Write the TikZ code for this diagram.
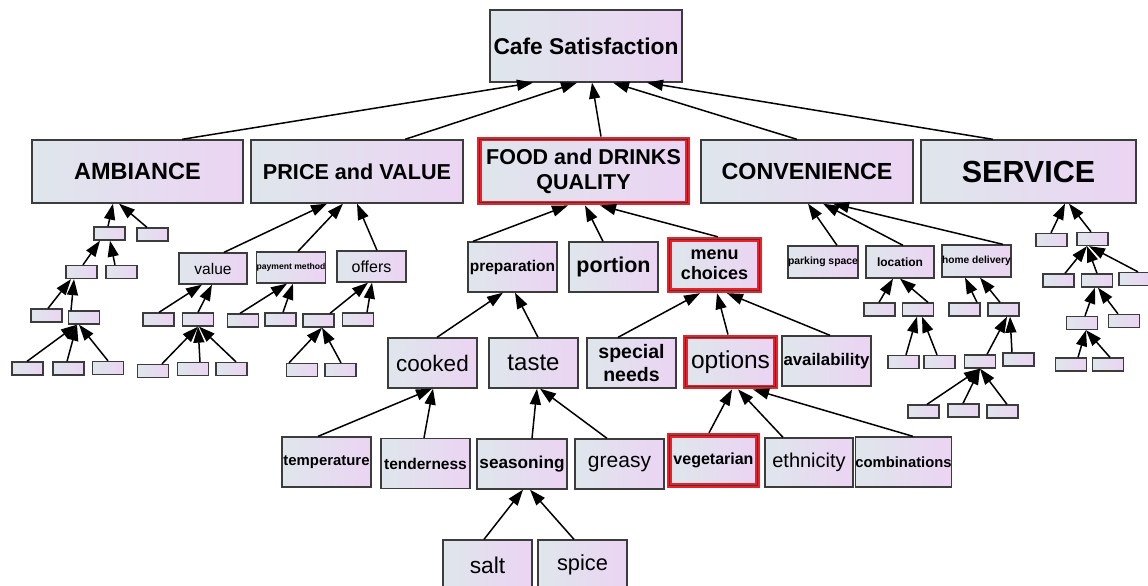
\documentclass[tikz,border=0pt]{standalone}
\usepackage{fontspec}
\setmainfont{Liberation Sans}
\usetikzlibrary{arrows.meta}
\definecolor{shL}{HTML}{DFE6EC}
\definecolor{shR}{HTML}{EBD4F3}
\definecolor{bord}{HTML}{3C3C3C}
\definecolor{hlred}{HTML}{E8212B}
\tikzset{
 box/.style={draw=bord, line width=1.3pt, left color=shL, right color=shR, inner sep=0pt, align=center, text=black},
 sbox/.style={box, minimum width=31pt, minimum height=13pt},
 bigbox/.style={box, minimum width=89pt, minimum height=50pt},
 hlbox/.style={draw=hlred, line width=4.8pt, left color=shL, right color=shR, inner sep=0pt, align=center, text=black},
 innerline/.style={draw=bord, line width=1pt},
 arr/.style={draw=black, line width=1.5pt, -{Triangle[length=16pt,width=11pt]}},
}
\newcommand\conn[4]{\draw[arr] (#1.north -| #2,0) -- (#3.south -| #4,0);}
\newcommand\fsz[1]{\fontsize{#1}{#1}\selectfont}
\newcommand\hlinner[1]{\draw[innerline] ([shift={(3pt,-3pt)}]#1.north west) rectangle ([shift={(-3pt,3pt)}]#1.south east);}
\begin{document}
\begin{tikzpicture}[x=1pt,y=-1pt]
\clip (0,0) rectangle (1148,586);
\fill[white] (0,0) rectangle (1148,586);

% root and level 1
\node[box, minimum width=192pt, minimum height=72pt, font=\fsz{22.8}\bfseries] (root) at (586,46) {Cafe Satisfaction};
\node[box, minimum width=211pt, minimum height=63pt, font=\fsz{23.5}\bfseries] (amb) at (137.5,171.5) {AMBIANCE};
\node[box, minimum width=212pt, minimum height=63pt, font=\fsz{21.6}\bfseries] (price) at (357,171.5) {PRICE and VALUE};
\node[hlbox, minimum width=208.5pt, minimum height=64pt, font=\fontsize{21.5}{25}\selectfont\bfseries] (food) at (583.5,171) {FOOD and DRINKS\\QUALITY};
\hlinner{food}
\node[box, minimum width=212pt, minimum height=63pt, font=\fsz{23.3}\bfseries] (conv) at (807,171.5) {CONVENIENCE};
\node[box, minimum width=215pt, minimum height=63pt, font=\fsz{30.5}\bfseries] (serv) at (1028.5,171.5) {SERVICE};

% food subtree
\node[bigbox, font=\fsz{15.5}\bfseries] (prep) at (512.5,267) {preparation};
\node[bigbox, font=\fsz{21.5}\bfseries] (portion) at (613.5,267) {portion};
\node[hlbox, minimum width=90.5pt, minimum height=51.5pt, font=\fontsize{18}{20}\selectfont\bfseries] (menu) at (714.5,265) {menu\\choices};
\hlinner{menu}
\node[bigbox, font=\fsz{22.5}] (cooked) at (432.5,363) {cooked};
\node[bigbox, font=\fsz{24}] (taste) at (533.5,363) {taste};
\node[bigbox, font=\fontsize{19.5}{23}\selectfont\bfseries] (special) at (631.5,363) {special\\needs};
\node[hlbox, minimum width=90.5pt, minimum height=50pt, font=\fsz{24.5}] (options) at (730.5,362) {options};
\hlinner{options}
\node[bigbox, font=\fsz{16.8}\bfseries] (avail) at (826.5,361) {availability};
\node[bigbox, font=\fsz{14.9}\bfseries] (temp) at (326.5,462) {temperature};
\node[bigbox, font=\fsz{15.5}\bfseries] (tender) at (425.5,463.5) {tenderness};
\node[bigbox, minimum width=90pt, font=\fsz{17.2}\bfseries] (season) at (522,464) {seasoning};
\node[bigbox, font=\fsz{21}] (greasy) at (619.5,464) {greasy};
\node[hlbox, minimum width=88.5pt, minimum height=50.5pt, font=\fsz{16}\bfseries] (veg) at (713.5,460.5) {vegetarian};
\hlinner{veg}
\node[bigbox, minimum width=88pt, minimum height=49pt, font=\fsz{20}] (ethn) at (809,462.5) {ethnicity};
\node[bigbox, font=\fsz{14.8}\bfseries] (comb) at (903.5,462) {combinations};
\node[bigbox, font=\fsz{22.8}] (salt) at (487.5,565) {salt};
\node[bigbox, font=\fsz{21.8}] (spice) at (582.5,565) {spice};

% ambiance subtree
\node[sbox] (A1) at (109.5,233.5) {};
\node[sbox] (A2) at (152.5,234.5) {};
\node[sbox] (A11) at (81.5,272) {};
\node[sbox] (A12) at (121.5,272) {};
\node[sbox] (A111) at (46.5,315.5) {};
\node[sbox] (A112) at (84,317.5) {};
\node[sbox] (A1121) at (27.5,368.5) {};
\node[sbox] (A1122) at (68.5,368.5) {};
\node[sbox] (A1123) at (108,368) {};

% price subtree
\node[box, minimum width=68pt, minimum height=31pt, font=\fsz{15.5}] (value) at (213,268.5) {value};
\node[box, minimum width=68pt, minimum height=31pt, font=\fsz{8.6}\bfseries] (pay) at (291,267.5) {payment method};
\node[box, minimum width=69pt, minimum height=31pt, font=\fsz{16}] (offers) at (371.5,266.5) {offers};
\node[sbox] (V1) at (158.5,319.5) {};
\node[sbox] (V2) at (198,319.5) {};
\node[sbox] (V21) at (153,371) {};
\node[sbox] (V22) at (193,369) {};
\node[sbox] (V23) at (231.5,369) {};
\node[sbox] (P1) at (243,320.5) {};
\node[sbox] (P2) at (280.5,319.5) {};
\node[sbox] (O1) at (318.5,320.5) {};
\node[sbox] (O2) at (358,319.5) {};
\node[sbox] (O11) at (302,370) {};
\node[sbox] (O12) at (340.5,370) {};

% convenience subtree
\node[box, minimum width=70pt, minimum height=32pt, font=\fsz{10.4}\bfseries] (park) at (823,262) {parking space};
\node[box, minimum width=68pt, minimum height=32pt, font=\fsz{12}\bfseries] (loc) at (900,262) {location};
\node[box, minimum width=69pt, minimum height=32pt, font=\fsz{10.2}\bfseries] (home) at (976.5,261) {home delivery};
\node[sbox] (L1) at (879.5,309.5) {};
\node[sbox] (L2) at (918,309.5) {};
\node[sbox] (L21) at (903.5,362) {};
\node[sbox] (L22) at (939.5,362) {};
\node[sbox] (H1) at (964.5,309.5) {};
\node[sbox] (H2) at (1003.5,309.5) {};
\node[sbox] (H21) at (980,361.5) {};
\node[sbox] (H22) at (1018.5,359.5) {};
\node[sbox] (H211) at (923.5,411.5) {};
\node[sbox] (H212) at (963.5,410.5) {};
\node[sbox] (H213) at (1002.5,411.5) {};

% service subtree
\node[sbox] (S1) at (1051.5,240) {};
\node[sbox] (S2) at (1092.5,239) {};
\node[sbox] (S21) at (1058.5,280.5) {};
\node[sbox] (S22) at (1097,280.5) {};
\node[sbox] (S23) at (1134.5,279) {};
\node[sbox] (S221) at (1082,323) {};
\node[sbox] (S222) at (1124,321) {};
\node[sbox] (S2211) at (1071,364.5) {};
\node[sbox] (S2212) at (1108,364.5) {};

% connectors: level 1
\conn{amb}{182}{root}{533}
\conn{price}{405}{root}{577}
\conn{food}{601}{root}{592}
\conn{conv}{797}{root}{613}
\conn{serv}{993}{root}{647}

% food
\conn{prep}{473}{food}{568}
\conn{portion}{603}{food}{585}
\conn{menu}{718}{food}{600}
\conn{cooked}{437}{prep}{503}
\conn{taste}{538}{prep}{515}
\conn{special}{618}{menu}{700}
\conn{options}{728}{menu}{717}
\conn{avail}{830}{menu}{727}
\conn{temp}{318}{cooked}{432}
\conn{tender}{424}{cooked}{433}
\conn{season}{532}{taste}{537}
\conn{greasy}{607}{taste}{540}
\conn{salt}{484}{season}{523}
\conn{spice}{574}{season}{530}
\conn{veg}{709}{options}{732}
\conn{ethn}{783}{options}{738}
\conn{comb}{913}{options}{753}

% ambiance
\conn{A1}{108}{amb}{113}
\conn{A2}{147}{amb}{119}
\conn{A11}{83}{A1}{100}
\conn{A12}{115}{A1}{110}
\conn{A111}{48}{A11}{71}
\conn{A112}{71}{A11}{74}
\conn{A1121}{27}{A112}{77}
\conn{A1122}{67}{A112}{77}
\conn{A1123}{108}{A112}{79}

% price
\conn{value}{224}{price}{327}
\conn{pay}{298}{price}{343}
\conn{offers}{377}{price}{357}
\conn{V1}{159}{value}{202}
\conn{V2}{198}{value}{212}
\conn{V21}{162}{V2}{198}
\conn{V22}{200}{V2}{198}
\conn{V23}{236}{V2}{199}
\conn{P1}{240}{pay}{287}
\conn{P2}{283}{pay}{293}
\conn{O1}{330}{offers}{368}
\conn{O2}{367}{offers}{372}
\conn{O11}{289}{O1}{322}
\conn{O12}{341}{O1}{322}

% convenience
\conn{park}{837}{conv}{808}
\conn{loc}{903}{conv}{823}
\conn{home}{1003}{conv}{833}
\conn{L1}{879}{loc}{893}
\conn{L2}{928}{loc}{900}
\conn{L21}{906}{L2}{917}
\conn{L22}{937}{L2}{922}
\conn{H1}{977}{home}{965}
\conn{H2}{1000}{home}{980}
\conn{H21}{987}{H2}{1007}
\conn{H22}{1012}{H2}{1010}
\conn{H211}{927}{H21}{980}
\conn{H212}{963}{H21}{980}
\conn{H213}{1007}{H21}{980}

% service
\conn{S1}{1051}{serv}{1065}
\conn{S2}{1091}{serv}{1069}
\conn{S21}{1065}{S2}{1087}
\conn{S22}{1097}{S2}{1087}
\conn{S23}{1138}{S2}{1089}
\conn{S221}{1085}{S22}{1095}
\conn{S222}{1118}{S22}{1098}
\conn{S2211}{1078}{S221}{1086}
\conn{S2212}{1110}{S221}{1086}
\end{tikzpicture}
\end{document}
